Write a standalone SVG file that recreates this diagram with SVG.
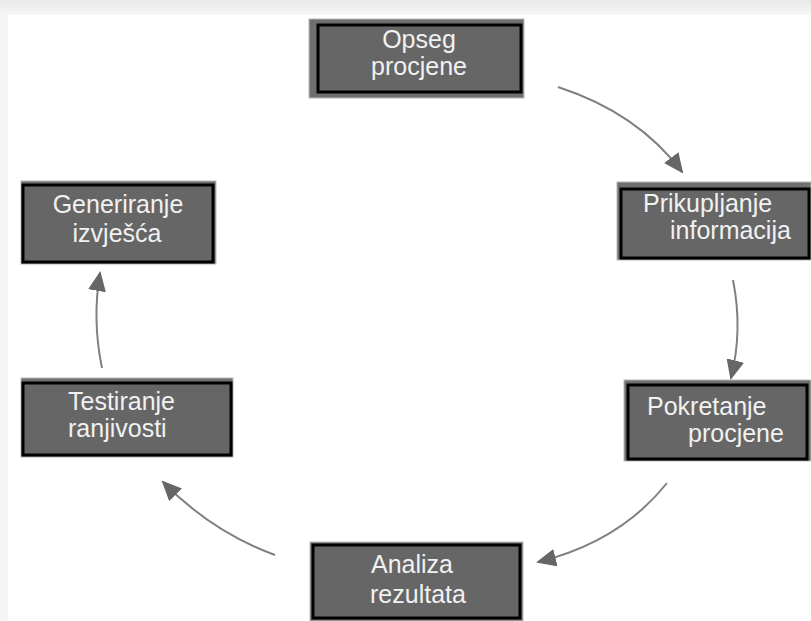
<svg xmlns="http://www.w3.org/2000/svg" width="811" height="621" viewBox="0 0 811 621">
<defs>
<linearGradient id="topg" x1="0" y1="0" x2="0" y2="1">
<stop offset="0" stop-color="#e9e9e9"/>
<stop offset="1" stop-color="#f6f6f6"/>
</linearGradient>
<marker id="ah" viewBox="0 0 20 18" refX="18" refY="9" markerWidth="20" markerHeight="18" markerUnits="userSpaceOnUse" orient="auto">
<path d="M0,0 L20,9 L0,18 Z" fill="#666"/>
</marker>
<style>
.outer{fill:#6f6f6f;stroke:#b8b8b8;stroke-width:1}
.inner{fill:#666;stroke:#000;stroke-width:3}
.t{font-family:"Liberation Sans",Arial,sans-serif;font-size:25px;fill:#f1f1f1}
.c{text-anchor:middle}
.conn path{fill:none;stroke:#808080;stroke-width:2;marker-end:url(#ah)}
</style>
</defs>
<rect x="0" y="0" width="811" height="621" fill="#f5f5f5"/>
<rect x="0" y="0" width="811" height="15" fill="url(#topg)"/>
<rect x="8" y="15" width="803" height="606" fill="#ffffff"/>

<g id="opseg">
<rect class="outer" x="309" y="19" width="215" height="79"/>
<rect class="inner" x="318" y="25" width="203" height="67"/>
<text class="t c" x="419" y="48">Opseg</text>
<text class="t c" x="419" y="75">procjene</text>
</g>

<g id="prikupljanje">
<rect class="outer" x="617" y="182" width="194" height="78"/>
<rect class="inner" x="621" y="189" width="188" height="69"/>
<text class="t" x="643" y="212">Prikupljanje</text>
<text class="t" x="670" y="239">informacija</text>
</g>

<g id="pokretanje">
<rect class="outer" x="624" y="380" width="187" height="81"/>
<rect class="inner" x="628" y="385" width="179" height="74"/>
<text class="t" x="647" y="415">Pokretanje</text>
<text class="t" x="688" y="442">procjene</text>
</g>

<g id="analiza">
<rect class="outer" x="310" y="542" width="213" height="79"/>
<rect class="inner" x="313" y="545" width="207" height="73"/>
<text class="t c" x="412" y="573">Analiza</text>
<text class="t c" x="418" y="603">rezultata</text>
</g>

<g id="testiranje">
<rect class="outer" x="21" y="378" width="212" height="79"/>
<rect class="inner" x="23" y="383" width="208" height="72"/>
<text class="t" x="68" y="410">Testiranje</text>
<text class="t" x="68" y="437">ranjivosti</text>
</g>

<g id="generiranje">
<rect class="outer" x="21" y="181" width="195" height="83"/>
<rect class="inner" x="23" y="185" width="190" height="77"/>
<text class="t c" x="118" y="213">Generiranje</text>
<text class="t c" x="117" y="242">izvješća</text>
</g>

<g id="connectors" class="conn">
<path d="M558,87 Q638,113 682,172"/>
<path d="M733,280 Q743,330 731,378"/>
<path d="M667,483 Q620,542 538,562"/>
<path d="M275,555 Q212,532 163,482"/>
<path d="M102,368 Q92,320 100,273"/>
</g>
</svg>
